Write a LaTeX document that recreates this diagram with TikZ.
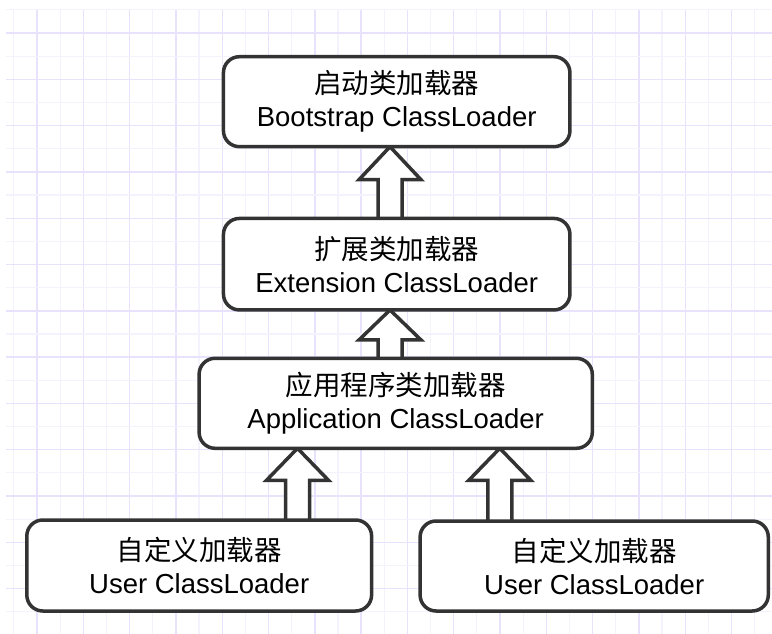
\documentclass[tikz,border=0pt]{standalone}
\usepackage{fontspec}
\setmainfont{Liberation Sans}
\newfontfamily\cjk{Noto Sans CJK SC}
\usetikzlibrary{calc}
\definecolor{gridmaj}{RGB}{232,226,252}
\definecolor{gridmin}{RGB}{244,242,253}
\definecolor{edge}{RGB}{51,51,51}
\pgfdeclarelayer{gridlayer}
\pgfdeclarelayer{arrowlayer}
\pgfsetlayers{gridlayer,arrowlayer,main}
\tikzset{
  loader/.style={draw=edge, line width=3.5pt, fill=white, rounded corners=16pt,
    minimum height=90pt, align=center, inner sep=0pt,
    font=\fontsize{27.5}{33}\selectfont},
  blockarrow/.style={draw=edge, line width=3.5pt, fill=white, line join=miter},
  majorline/.style={draw=gridmaj, line width=1.4pt},
  minorline/.style={draw=gridmin, line width=1.2pt},
}
\newcommand\drawblockarrow[4]{%
  \path[blockarrow] ($(#1 |- #2.south)+(0,-1.75)$) coordinate (tip)
    -- ++(31,#4) -- ++(-19,0) -- ($(#1 |- #3.north)+(12,5)$)
    -- ($(#1 |- #3.north)+(-12,5)$) -- ($(tip)+(-12,#4)$) -- ++(-19,0) -- cycle;
}
\begin{document}
\begin{tikzpicture}[x=1pt,y=-1pt]
\useasboundingbox (0,0) rectangle (772,634);
\begin{pgfonlayer}{gridlayer}
  \fill[white] (0,0) rectangle (772,634);
  \foreach \k in {0,...,16} {
    \path[minorline] ({13.85+46.3*\k},10) -- ({13.85+46.3*\k},634);
    \path[majorline] ({37+46.3*\k},10) -- ({37+46.3*\k},634);
  }
  \foreach \k in {0,...,13} {
    \path[minorline] (6,{9.85+46.3*\k}) -- (772,{9.85+46.3*\k});
    \path[majorline] (6,{33+46.3*\k}) -- (772,{33+46.3*\k});
  }
\end{pgfonlayer}

\node[loader, minimum width=346.5pt] (boot) at (396.7,101.7)
  {{\cjk 启动类加载器}\\Bootstrap ClassLoader};
\node[loader, minimum width=346.5pt, minimum height=91.5pt] (ext) at (396.7,264.2)
  {{\cjk 扩展类加载器}\\Extension ClassLoader};
\node[loader, minimum width=393.2pt] (app) at (395.7,403.3)
  {{\cjk 应用程序类加载器}\\Application ClassLoader};
\node[loader, minimum width=344.8pt, minimum height=91pt] (userA) at (199.2,565.5)
  {{\cjk 自定义加载器}\\User ClassLoader};
\node[loader, minimum width=348.2pt] (userB) at (594.2,566)
  {{\cjk 自定义加载器}\\User ClassLoader};

\coordinate (ax1) at (390,0);
\coordinate (ax2) at (297.5,0);
\coordinate (ax3) at (499.8,0);
\begin{pgfonlayer}{arrowlayer}
  \drawblockarrow{ax1}{boot}{ext}{33}
  \drawblockarrow{ax1}{ext}{app}{30}
  \drawblockarrow{ax2}{app}{userA}{32}
  \drawblockarrow{ax3}{app}{userB}{32}
\end{pgfonlayer}
\end{tikzpicture}
\end{document}
